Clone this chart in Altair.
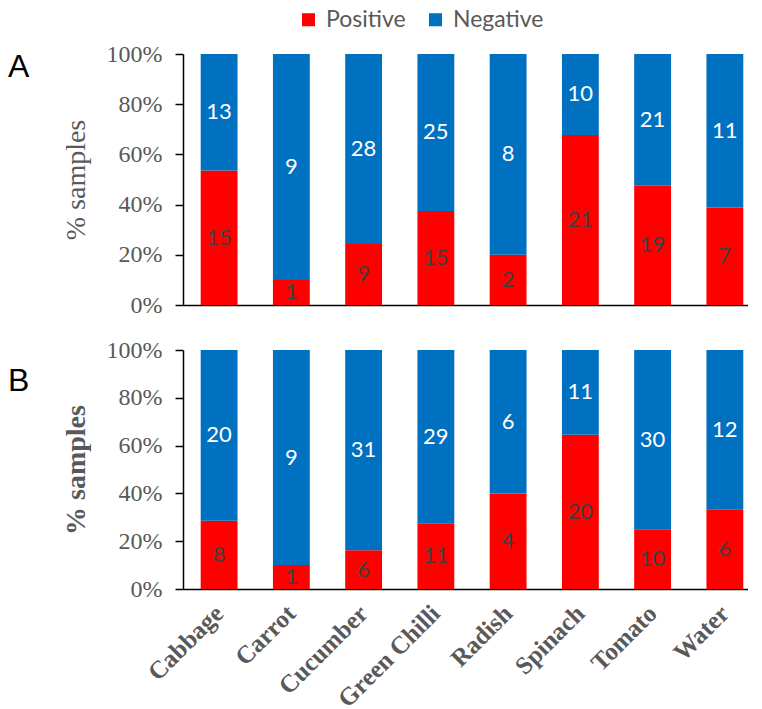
import altair as alt
import pandas as pd

vegetables = ["Cabbage", "Carrot", "Cucumber", "Green Chilli", "Radish", "Spinach", "Tomato", "Water"]
statuses = ["Positive", "Negative"]
status_colors = ["#FF0000", "#0070C0"]
a_positive = [15, 1, 9, 15, 2, 21, 19, 7]
a_negative = [13, 9, 28, 25, 8, 10, 21, 11]
b_positive = [8, 1, 6, 11, 4, 20, 10, 6]
b_negative = [20, 9, 31, 29, 6, 11, 30, 12]
y_ticks = [0, 0.2, 0.4, 0.6, 0.8, 1.0]

GRAY = "#595959"
SERIF = "Liberation Serif"
SANS = "Lato"


def make_df(pos, neg):
    rows = []
    for v, p, n in zip(vegetables, pos, neg):
        rows.append({"veg": v, "status": "Positive", "count": p, "ord": 0})
        rows.append({"veg": v, "status": "Negative", "count": n, "ord": 1})
    return pd.DataFrame(rows)


legend = alt.Legend(
    orient="none", legendX=114, legendY=-46, direction="horizontal", title=None,
    symbolType="square", symbolSize=170, symbolStrokeWidth=0,
    labelFont=SANS, labelFontSize=23, labelColor=GRAY, columnPadding=18, labelOffset=6,
)


def panel(df, letter, letter_y, height, bold_title, show_x_labels):
    base = alt.Chart(df).transform_stack(
        stack="count", groupby=["veg"], sort=[alt.SortField("ord")],
        offset="normalize", as_=["y0", "y1"]
    ).transform_calculate(mid="(datum.y0 + datum.y1) / 2")

    if show_x_labels:
        xaxis = alt.Axis(
            title=None, ticks=False, domainColor="black", domainWidth=1.5,
            labelAngle=315, labelAlign="right", labelBaseline="middle",
            labelFont=SERIF, labelFontWeight="bold", labelFontSize=25,
            labelColor=GRAY, labelPadding=20,
        )
    else:
        xaxis = alt.Axis(title=None, ticks=False, labels=False,
                         domainColor="black", domainWidth=1.5)

    x = alt.X("veg:N", sort=vegetables,
              scale=alt.Scale(paddingInner=0.49, paddingOuter=0.155, align=0.79),
              axis=xaxis)

    yaxis = alt.Axis(
        title="% samples", values=y_ticks, format=".0%", grid=False,
        domainColor="black", domainWidth=1.5, tickColor="black", tickWidth=1.5, tickSize=8,
        labelFont=SERIF, labelFontSize=24, labelColor=GRAY, labelPadding=13,
        titleFont=SERIF, titleFontSize=28, titleColor=GRAY,
        titleFontWeight="bold" if bold_title else "normal", titlePadding=16,
    )

    bars = base.mark_bar().encode(
        x=x,
        y=alt.Y("y0:Q", scale=alt.Scale(domain=[0, 1]), axis=yaxis),
        y2="y1:Q",
        color=alt.Color("status:N", scale=alt.Scale(domain=statuses, range=status_colors),
                        legend=legend),
    )
    labels = base.mark_text(font=SANS, fontSize=22).encode(
        x=alt.X("veg:N", sort=vegetables),
        y=alt.Y("mid:Q"),
        text="count:Q",
        color=alt.condition("datum.status == 'Positive'", alt.value("#404040"), alt.value("white")),
    )
    letter_mark = alt.Chart(pd.DataFrame({"t": [letter]})).mark_text(
        align="left", baseline="alphabetic", font="Liberation Sans", fontSize=32, color="black"
    ).encode(text="t:N", x=alt.value(-175), y=alt.value(letter_y))

    return alt.layer(bars, labels, letter_mark).properties(width=565, height=height)


chart_a = panel(make_df(a_positive, a_negative), "A", 23, 251, False, False)
chart_b = panel(make_df(b_positive, b_negative), "B", 41, 239, True, True)

chart = alt.vconcat(chart_a, chart_b, spacing=21).properties(padding=0).configure_view(stroke=None)

chart.save("out.html", embed_options={"renderer": "svg", "actions": False})
